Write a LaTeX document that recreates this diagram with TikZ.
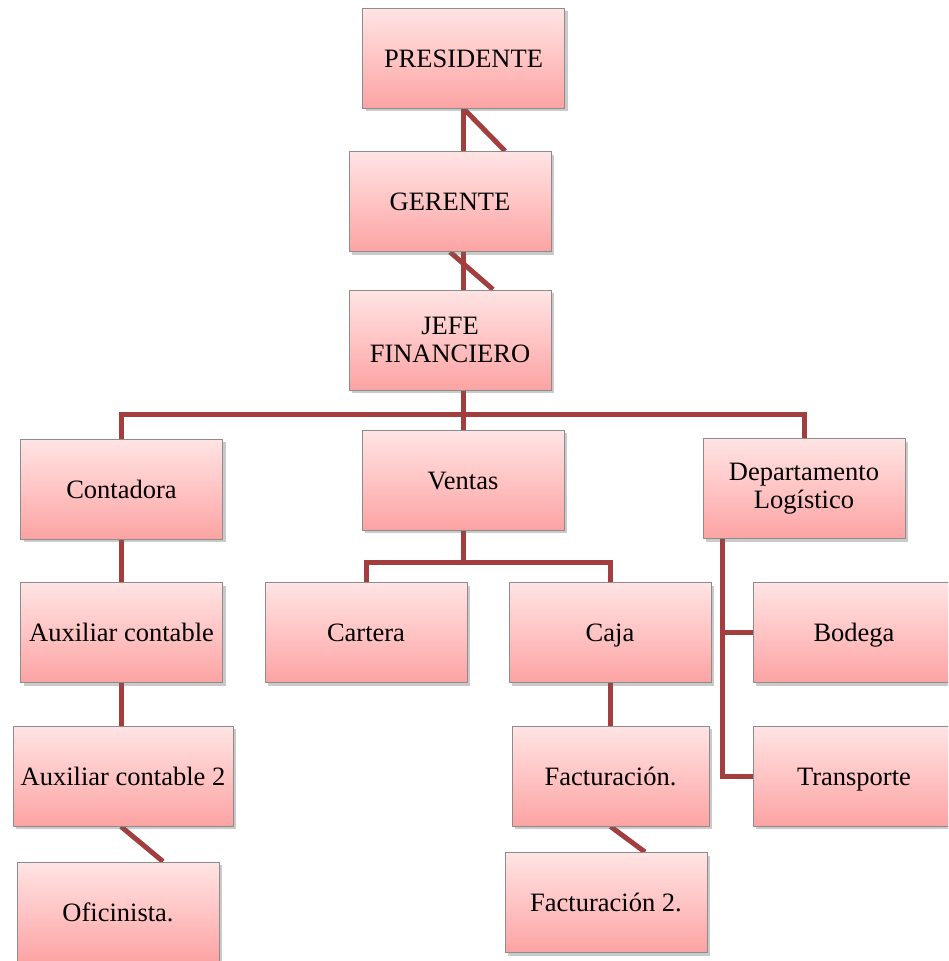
\documentclass[tikz,border=0pt]{standalone}
\usepackage{fontspec}
\setmainfont{Liberation Serif}
\usetikzlibrary{calc,shadows,backgrounds}
\definecolor{boxtop}{HTML}{FFE4E4}
\definecolor{boxmid}{HTML}{FFC4C4}
\definecolor{boxbot}{HTML}{FCA3A3}
\definecolor{boxedge}{HTML}{8C8C8C}
\definecolor{linkred}{HTML}{A33E3E}
\tikzset{
  orgbox/.style={rectangle, draw=boxedge, line width=1pt,
    top color=boxtop, bottom color=boxbot, middle color=boxmid,
    minimum width=202pt, minimum height=100pt, inner sep=2pt,
    align=center, font=\fontsize{26.5}{28}\selectfont,
    drop shadow={shadow xshift=3pt, shadow yshift=-3pt, opacity=0.35, fill=black!60}},
  oneline/.style={orgbox, align=none, text height=18pt, text depth=0pt},
  link/.style={draw=linkred, line width=5pt, line cap=butt, line join=miter}
}
\begin{document}
\begin{tikzpicture}[x=1pt,y=-1pt]
\useasboundingbox (0,0) rectangle (948,961);
\clip (0,0) rectangle (948,961);
% boxes
\node[oneline] (pres) at (463.5,58) {PRESIDENTE};
\node[oneline] (ger)  at (450,201.5) {GERENTE};
\node[orgbox] (jefe) at (450,340) {JEFE\\FINANCIERO};
\node[oneline] (cont) at (121.5,489) {Contadora};
\node[oneline] (vent) at (463,480) {Ventas};
\node[orgbox] (dept) at (804,488.5) {Departamento\\Logístico};
\node[oneline] (aux1) at (121.5,632.5) {Auxiliar contable};
\node[oneline] (cart) at (366,632.5) {Cartera};
\node[oneline] (caja) at (610,632.5) {Caja};
\node[oneline] (bod)  at (854,632.5) {Bodega};
\node[oneline, minimum width=220pt] (aux2) at (123,776) {Auxiliar contable 2};
\node[oneline, minimum width=197pt] (fact) at (610.5,776) {Facturación.};
\node[oneline] (trans) at (854,776) {Transporte};
\node[oneline] (ofic) at (118,912) {Oficinista.};
\node[oneline] (fact2) at (606,902.5) {Facturación 2.};
% connectors, kept behind the boxes
\begin{scope}[on background layer]
  % top of the chart: straight and slanted links
  \draw[link] (pres.south) -- (pres.south |- ger.north);
  \draw[link] (pres.south) -- ($(ger.north)+(55,0)$);
  \draw[link] ($(ger.south)+(13,0)$) -- ($(jefe.north)+(13,0)$);
  \draw[link] (ger.south) -- ($(jefe.north)+(43,0)$);
  % JEFE FINANCIERO to the three departments
  \coordinate (bus) at ($(jefe.south)+(13,24)$);
  \draw[link] ($(jefe.south)+(13,0)$) -- (bus) -- (vent.north);
  \draw[link] (cont.north) |- (bus) -| (dept.north);
  % Contadora branch
  \draw[link] (cont.south) -- (aux1.north);
  \draw[link] (aux1.south) -- (aux1.south |- aux2.north);
  \draw[link] ($(aux2.south)+(-2,0)$) -- ($(ofic.north)+(45,0)$);
  % Ventas branch
  \coordinate (vbus) at ($(vent.south)+(0,32)$);
  \draw[link] (vent.south) -- (vbus);
  \draw[link] (cart.north) |- (vbus) -| (caja.north);
  \draw[link] (caja.south) -- (caja.south |- fact.north);
  \draw[link] (fact.south) -- ($(fact2.north)+(39,0)$);
  % Departamento Logístico branch
  \coordinate (dl) at ($(dept.south west)+(20,0)$);
  \draw[link] (dl) |- (trans.west);
  \draw[link] (bod.west) -- (dl |- bod.west);
\end{scope}
\end{tikzpicture}
\end{document}
